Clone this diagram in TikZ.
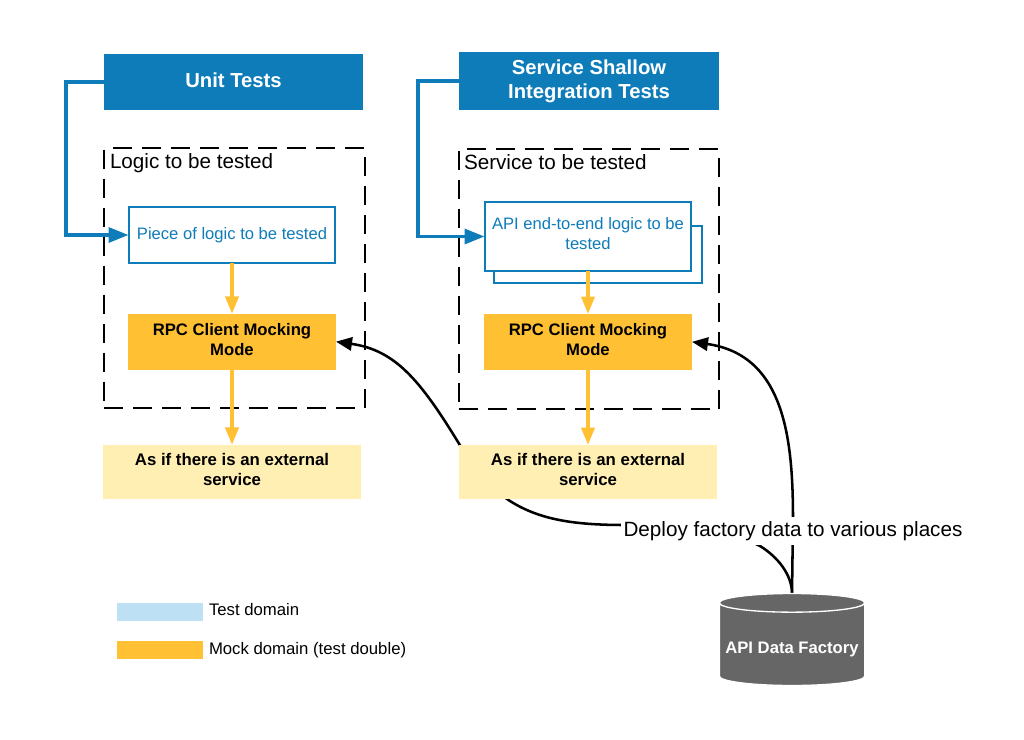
\documentclass[tikz,border=0pt]{standalone}
\usepackage{fontspec}
\setmainfont{Liberation Sans}
\usetikzlibrary{shapes.geometric,arrows.meta,positioning,backgrounds}
\definecolor{testblue}{HTML}{0F7CBA}
\definecolor{mockorange}{HTML}{FFC133}
\definecolor{palemock}{HTML}{FFEFB3}
\definecolor{paleblue}{HTML}{BDE0F5}
\definecolor{factorygray}{HTML}{666666}

\begin{document}
\begin{tikzpicture}[
    x=0.75pt,
    y=-0.75pt,
    auto,
    thick,
    every node/.style={align=center,inner sep=0pt,outer sep=0pt},
    title node/.style={rectangle,fill=testblue,text=white,font=\fontsize{15.2pt}{18pt}\selectfont\bfseries},
    scope node/.style={rectangle,draw=black,line width=1.5pt,dash pattern=on 14.25pt off 7.5pt,minimum width=195.5pt,minimum height=195pt},
    scope label/.style={anchor=west,text height=11pt,text depth=0pt,font=\fontsize{15.5pt}{18pt}\selectfont},
    logic node/.style={rectangle,draw=testblue,fill=white,line width=1.5pt,text=testblue,minimum width=155pt,font=\fontsize{12.45pt}{15pt}\selectfont},
    mock node/.style={rectangle,fill=mockorange,minimum width=156pt,minimum height=42pt,text depth=3pt,font=\fontsize{12.5pt}{15pt}\selectfont\bfseries},
    external node/.style={rectangle,fill=palemock,minimum width=193pt,minimum height=40.5pt,text depth=3pt,font=\fontsize{12.6pt}{15pt}\selectfont\bfseries},
    legend node/.style={rectangle,minimum width=65pt,minimum height=14pt},
    legend label/.style={anchor=west,text height=9pt,text depth=0pt,font=\fontsize{12.55pt}{15pt}\selectfont},
    test link/.style={draw=testblue,line width=2.9pt,-{Triangle[length=15pt,width=11pt]}},
    mock link/.style={draw=mockorange,line width=2.4pt,-{Triangle[length=13pt,width=10pt]}},
    data link/.style={draw=black,line width=1.9pt},
    data arrow/.style={data link,-{Triangle[length=12pt,width=10pt]}}
]

\useasboundingbox (0,0) rectangle (1024,739);

% Titles
\node[title node, minimum width=194.5pt, minimum height=42pt, text depth=3pt] (unit) at (233.5,82) {Unit Tests};
\node[title node, minimum width=195pt, minimum height=43.5pt] (service) at (589,81) {Service Shallow\\Integration Tests};

% Dashed scopes
\node[scope node] (logic_scope) at (234.5,278) {};
\node[scope node] (service_scope) at (589,279) {};
\node[scope label] (logic_label) at (110,161) {Logic to be tested};
\node[scope label] (service_label) at (464,162) {Service to be tested};

% Code under test
\node[logic node, minimum height=42pt] (piece) at (232,235) {Piece of logic to be tested};
\node[logic node, minimum width=156pt, minimum height=43pt] (api_back) at (597.5,254.5) {};
\node[logic node, minimum height=51.5pt, text depth=4.5pt] (api) at (588,236.5) {API end-to-end logic to be\\tested};

% Mocks
\node[mock node, below of=piece, node distance=80pt] (rpc_left) {RPC Client Mocking\\Mode};
\node[mock node, below of=api, node distance=79pt] (rpc_right) {RPC Client Mocking\\Mode};

% External services
\node[external node, below of=rpc_left, node distance=97.5pt] (ext_left) {As if there is an external\\service};
\node[external node, below of=rpc_right, node distance=97.5pt] (ext_right) {As if there is an external\\service};

% Factory
\node[cylinder, shape border rotate=90, draw=white, line width=1pt, fill=factorygray, text=white, aspect=0.14,
      minimum width=109pt, minimum height=69pt, text height=14pt, text depth=0pt, font=\fontsize{12.5pt}{15pt}\selectfont\bfseries] (factory) at (792,644.5) {API Data Factory};
\node[fill=white, inner xsep=2pt, inner ysep=3pt, font=\fontsize{15.5pt}{18pt}\selectfont] (deploy) at (793,531) {Deploy factory data to various places};

% Legend
\node[legend node, fill=paleblue] (legend_test) at (160,612) {};
\node[legend node, fill=mockorange, below of=legend_test, node distance=28.5pt] (legend_mock) {};
\node[legend label] (legend_test_text) at (209,609) {Test domain};
\node[legend label] (legend_mock_text) at (209,648) {Mock domain (test double)};

% Arrows
\draw[test link] (unit.west) -- ++(-38,0) |- (piece.west);
\draw[test link] (service.west) -- ++(-41,0) |- (api.west);

\draw[mock link] (piece) -- (rpc_left);
\draw[mock link] (rpc_left) -- (ext_left);
\draw[mock link] (api) -- (rpc_right);
\draw[mock link] (rpc_right) -- (ext_right);

% Data arrows run under the boxes
\begin{scope}[on background layer]
\draw[data arrow] (factory.north) .. controls (792,575) and (778,557) .. (760,546)
    .. controls (730,530) and (680,525) .. (625,525)
    .. controls (575,525) and (540,520) .. (510,501)
    .. controls (490,488) and (475,470) .. (458,442)
    .. controls (420,380) and (395,350) .. (rpc_left.east);
\draw[data arrow] (factory.north) -- (793,520) .. controls (793,440) and (785,355) .. (rpc_right.east);
\end{scope}

\end{tikzpicture}
\end{document}
